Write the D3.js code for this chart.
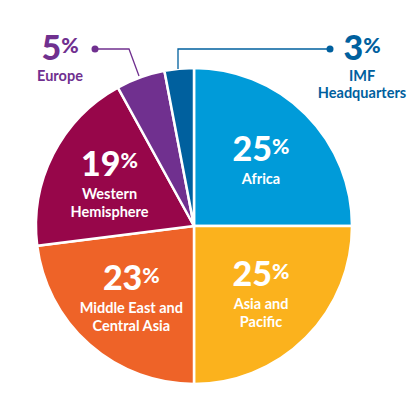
<!DOCTYPE html>
<html><head><meta charset="utf-8">
<script src="https://cdn.jsdelivr.net/npm/d3@7"></script>
<style>body{margin:0;background:#fff;font-family:Lato,"Open Sans",sans-serif}</style>
</head><body><div id="chart"></div>
<script>
const regions = ["Africa", "Asia and Pacific", "Middle East and Central Asia", "Western Hemisphere", "Europe", "IMF Headquarters"];
const shares = [25, 25, 23, 19, 5, 3];
const colors = ["#009bd9", "#fbb21d", "#ee6328", "#97064a", "#70308f", "#00609e"];
const labelLines = [["Africa"], ["Asia and", "Pacific"], ["Middle East and", "Central Asia"], ["Western", "Hemisphere"], ["Europe"], ["IMF", "Headquarters"]];

const svg = d3.select("#chart").append("svg").attr("width", 415).attr("height", 411);
const cx = 194, cy = 226, r = 158;
const g = svg.append("g").attr("transform", `translate(${cx},${cy})`);

const pie = d3.pie().sort(null).value(d => d);
const arcs = pie(shares);
const arc = d3.arc().innerRadius(0).outerRadius(r);
const labelArc = d3.arc().innerRadius(r * 0.6).outerRadius(r * 0.6);

g.selectAll("path").data(arcs).enter().append("path")
  .attr("d", arc).attr("fill", (d, i) => colors[i])
  .attr("stroke", "#fff").attr("stroke-width", 2.5);

function pct(sel, v, size) {
  sel.append("tspan").attr("font-size", size).text(v);
  sel.append("tspan").attr("font-size", size * 0.62).attr("dy", -size * 0.22).text("%");
}

// inside labels
arcs.slice(0, 4).forEach((d, i) => {
  const [x, y] = labelArc.centroid(d);
  const n = labelLines[i].length;
  const top = y + 2 - (n - 1) * 9;
  const t = g.append("text").attr("x", x).attr("y", top).attr("text-anchor", "middle")
    .attr("fill", "#fff").attr("font-weight", 900);
  pct(t, shares[i], 34);
  labelLines[i].forEach((l, j) => {
    g.append("text").attr("x", x).attr("y", top + 23 + j * 18).attr("text-anchor", "middle")
      .attr("fill", "#fff").attr("font-weight", 700).attr("font-size", 14.5).text(l);
  });
});

// outside labels with leader lines
const outside = [
  {i: 4, dot: [95, 49], elbow: [129, 49], end: [139, 76], tx: 60},
  {i: 5, dot: [330, 49], elbow: [178, 49], end: [178, 69], tx: 362}
];
outside.forEach(o => {
  svg.append("path").attr("d", d3.line()([o.dot, o.elbow, o.end]))
    .attr("fill", "none").attr("stroke", colors[o.i]).attr("stroke-width", 1.3);
  svg.append("circle").attr("cx", o.dot[0]).attr("cy", o.dot[1]).attr("r", 3.5).attr("fill", colors[o.i]);
  const t = svg.append("text").attr("x", o.tx).attr("y", 60).attr("text-anchor", "middle")
    .attr("fill", colors[o.i]).attr("font-weight", 900);
  pct(t, shares[o.i], 34);
  labelLines[o.i].forEach((l, j) => {
    svg.append("text").attr("x", o.tx).attr("y", 81 + j * 17).attr("text-anchor", "middle")
      .attr("fill", colors[o.i]).attr("font-weight", 700).attr("font-size", 14.5).text(l);
  });
});
</script></body></html>
